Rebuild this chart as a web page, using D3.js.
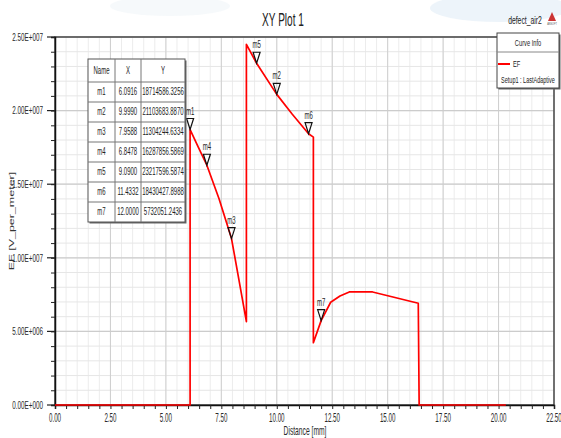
<!DOCTYPE html>
<html><head><meta charset="utf-8">
<script src="https://cdn.jsdelivr.net/npm/d3@7"></script>
<style>body{margin:0;background:#fff}svg{display:block}</style>
</head><body>
<script>
// ---- data ----
const xTickValues = [0, 2.5, 5, 7.5, 10, 12.5, 15, 17.5, 20, 22.5];
const xTickLabels = ["0.00","2.50","5.00","7.50","10.00","12.50","15.00","17.50","20.00","22.50"];
const yTickValues = [0, 5e6, 1e7, 1.5e7, 2e7, 2.5e7];
const yTickLabels = ["0.00E+000","5.00E+006","1.00E+007","1.50E+007","2.00E+007","2.50E+007"];
const curveX = [0, 6.0916, 6.0916, 6.45, 6.8478, 7.4, 7.9588, 8.3, 8.63, 8.63, 9.09, 9.999, 10.7, 11.4332, 11.65, 11.65, 12.0, 12.43, 12.85, 13.27, 14.32, 16.38, 16.42, 20.33];
const curveY = [0, 0, 18714586, 17550000, 16287857, 14000000, 11304245, 8450000, 5660000, 24500000, 23217597, 21103684, 19750000, 18430428, 18200000, 4230000, 5732051, 6980000, 7400000, 7680000, 7680000, 6910000, 0, 0];
const markerNames = ["m1","m2","m3","m4","m5","m6","m7"];
const markerX = [6.0916, 9.9990, 7.9588, 6.8478, 9.0900, 11.4332, 12.0000];
const markerY = [18714586.3256, 21103683.8870, 11304244.6334, 16287856.5869, 23217596.5874, 18430427.8988, 5732051.2436];
const tableHeaders = ["Name","X","Y"];
const seriesName = "EF";
const seriesSetup = "Setup1 : LastAdaptive";

// ---- layout ----
const W = 561, H = 438;
const L = 55, R = 554, T = 37, B = 405;
const FONT = "'Liberation Sans', Arial, sans-serif";

const svg = d3.select("body").append("svg").attr("width", W).attr("height", H);
const x = d3.scaleLinear().domain([0, 22.5]).range([L, R]);
const y = d3.scaleLinear().domain([0, 2.5e7]).range([B, T]);

function txt(g, px, py, s, size, sx, anchor, color, rot) {
  const t = g.append("text")
    .attr("transform", `translate(${px},${py})` + (rot ? ` rotate(${rot})` : "") + ` scale(${sx},1)`)
    .attr("font-family", FONT).attr("font-size", size)
    .attr("text-anchor", anchor || "start")
    .attr("dominant-baseline", "central")
    .attr("fill", color || "#222").text(s);
  return t;
}

// faint watermark
const wm = svg.append("g").attr("opacity", 0.5);
wm.append("ellipse").attr("cx", 500).attr("cy", 8).attr("rx", 70).attr("ry", 14).attr("fill", "#dceaf5");
wm.append("ellipse").attr("cx", 170).attr("cy", 6).attr("rx", 60).attr("ry", 10).attr("fill", "#eef3f8");

// minor grid
const gGrid = svg.append("g");
const minorX = d3.range(0, 22.5001, 0.5);
const minorY = d3.range(0, 2.5e7 + 1, 1e6);
gGrid.selectAll(".mx").data(minorX).join("line")
  .attr("x1", d => x(d)).attr("x2", d => x(d)).attr("y1", T).attr("y2", B)
  .attr("stroke", "#ececec").attr("stroke-width", 1);
gGrid.selectAll(".my").data(minorY).join("line")
  .attr("x1", L).attr("x2", R).attr("y1", d => y(d)).attr("y2", d => y(d))
  .attr("stroke", "#e6e6e6").attr("stroke-width", 1);
// major grid
gGrid.selectAll(".Mx").data(xTickValues).join("line")
  .attr("x1", d => x(d)).attr("x2", d => x(d)).attr("y1", T).attr("y2", B)
  .attr("stroke", "#cfcfcf").attr("stroke-width", 1);
gGrid.selectAll(".My").data(yTickValues).join("line")
  .attr("x1", L).attr("x2", R).attr("y1", d => y(d)).attr("y2", d => y(d))
  .attr("stroke", "#cccccc").attr("stroke-width", 1.3);

// frame
svg.append("rect").attr("x", L).attr("y", T).attr("width", R - L).attr("height", B - T)
  .attr("fill", "none").attr("stroke", "#333").attr("stroke-width", 1.3);

// axes
const xAxis = d3.axisBottom(x).tickValues(minorX).tickSize(4).tickFormat("");
svg.append("g").attr("transform", `translate(0,${B})`).call(xAxis)
  .call(g => g.select(".domain").attr("stroke", "#111").attr("stroke-width", 1.5))
  .call(g => g.selectAll(".tick line").attr("stroke", "#222"));
const yAxis = d3.axisLeft(y).tickValues(minorY).tickSize(4).tickFormat("");
svg.append("g").attr("transform", `translate(${L},0)`).call(yAxis)
  .call(g => g.select(".domain").attr("stroke", "#111").attr("stroke-width", 1.5))
  .call(g => g.selectAll(".tick line").attr("stroke", "#222"));
// major y ticks longer
svg.append("g").selectAll("line").data(yTickValues).join("line")
  .attr("x1", L - 8).attr("x2", L).attr("y1", d => y(d)).attr("y2", d => y(d))
  .attr("stroke", "#222").attr("stroke-width", 1.2);

// tick labels
const gLab = svg.append("g");
xTickValues.forEach((v, i) => txt(gLab, x(v), 418, xTickLabels[i], 12, 0.52, "middle", "#2a2a2a"));
yTickValues.forEach((v, i) => txt(gLab, 43, y(v), yTickLabels[i], 11.5, 0.55, "end", "#2a2a2a"));

// axis titles
txt(svg, 305, 431, "Distance [mm]", 12, 0.56, "middle", "#2a2a2a");
txt(svg, 11, 221, "EF [V_per_meter]", 12.5, 1, "middle", "#333", -90)
  .attr("transform", `translate(11,221) rotate(-90) scale(1,0.62)`);

// title
txt(svg, 283, 20, "XY Plot 1", 18, 0.56, "middle", "#222");
txt(svg, 525, 20, "defect_air2", 11, 0.62, "middle", "#222");
// logo
svg.append("path").attr("d", "M552,12 L548,21 L556,21 Z").attr("fill", "#c33");
txt(svg, 552, 24, "ANSOFT", 4, 0.6, "middle", "#555");

// curve
const line = d3.line().x((d, i) => x(curveX[i])).y((d, i) => y(curveY[i]));
svg.append("path").datum(curveX).attr("d", line)
  .attr("fill", "none").attr("stroke", "#ff0000").attr("stroke-width", 1.7)
  .attr("stroke-linejoin", "round");

// markers
const gM = svg.append("g");
markerNames.forEach((n, i) => {
  const px = x(markerX[i]), py = y(markerY[i]);
  gM.append("path").attr("d", `M${px - 3.5},${py - 11} L${px + 3.5},${py - 11} L${px},${py} Z`)
    .attr("fill", "none").attr("stroke", "#111").attr("stroke-width", 1.2);
  txt(gM, px, py - 18, n, 10, 0.6, "middle", "#222");
});

// marker table
const tbl = svg.append("g");
const colX = [88, 115, 141, 185];
const rowY = [59, 82].concat(d3.range(1, 8).map(k => 82 + k * 20));
const tL = colX[0], tR = colX[3], tT = rowY[0], tB = rowY[rowY.length - 1];
tbl.append("rect").attr("x", tL + 1.5).attr("y", tT + 1.5).attr("width", tR - tL).attr("height", tB - tT)
  .attr("fill", "#666");
tbl.append("rect").attr("x", tL).attr("y", tT).attr("width", tR - tL).attr("height", tB - tT)
  .attr("fill", "#fff").attr("stroke", "#555").attr("stroke-width", 1);
colX.slice(1, 3).forEach(cx => tbl.append("line").attr("x1", cx).attr("x2", cx).attr("y1", tT).attr("y2", tB).attr("stroke", "#777"));
rowY.slice(1, -1).forEach(ry => tbl.append("line").attr("x1", tL).attr("x2", tR).attr("y1", ry).attr("y2", ry).attr("stroke", "#777"));
const cc = [0, 1, 2].map(k => (colX[k] + colX[k + 1]) / 2);
tableHeaders.forEach((h, k) => txt(tbl, cc[k], (rowY[0] + rowY[1]) / 2, h, 10, 0.6, "middle", "#222"));
markerNames.forEach((n, i) => {
  const cy = (rowY[i + 1] + rowY[i + 2]) / 2;
  txt(tbl, cc[0], cy, n, 10, 0.6, "middle", "#222");
  txt(tbl, cc[1], cy, markerX[i].toFixed(4), 10, 0.6, "middle", "#222");
  txt(tbl, cc[2], cy, markerY[i].toFixed(4), 10, 0.6, "middle", "#222");
});

// legend box
const lg = svg.append("g");
lg.append("rect").attr("x", 498.5).attr("y", 34.5).attr("width", 62).attr("height", 55).attr("fill", "#666");
lg.append("rect").attr("x", 497).attr("y", 33).attr("width", 62).attr("height", 55)
  .attr("fill", "#fff").attr("stroke", "#444").attr("stroke-width", 1);
lg.append("line").attr("x1", 497).attr("x2", 559).attr("y1", 52).attr("y2", 52).attr("stroke", "#888");
txt(lg, 528, 43, "Curve Info", 9.5, 0.6, "middle", "#222");
lg.append("line").attr("x1", 498).attr("x2", 510).attr("y1", 64).attr("y2", 64).attr("stroke", "#ff0000").attr("stroke-width", 2);
txt(lg, 513, 64, seriesName, 9.5, 0.6, "start", "#222");
txt(lg, 528, 80, seriesSetup, 9.5, 0.58, "middle", "#222");
</script>
</body></html>
